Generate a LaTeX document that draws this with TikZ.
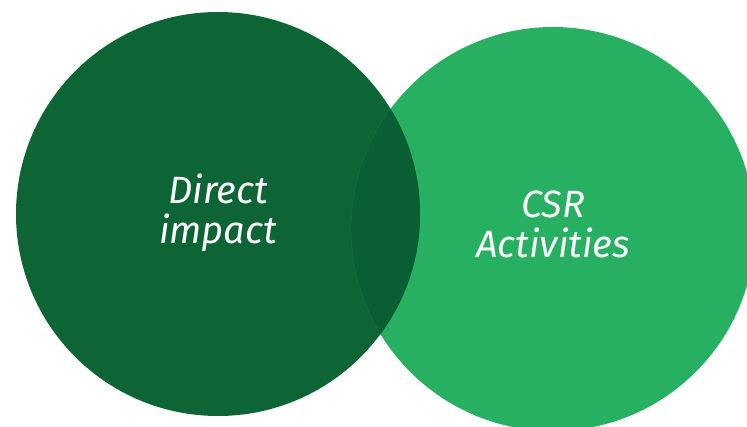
\documentclass[tikz,border=0pt]{standalone}
\usepackage{fontspec}
\setmainfont{Fira Sans}
\definecolor{leftc}{HTML}{0D6535}
\definecolor{rightc}{HTML}{28B062}
\definecolor{overc}{HTML}{0A5E33}
\tikzset{
  label/.style={text=white, align=center, font=\itshape\fontsize{38}{40}\selectfont, inner sep=0pt}
}
\begin{document}
\begin{tikzpicture}[x=1pt,y=-1pt]
\useasboundingbox (0,0) rectangle (747,427);
\coordinate (lc) at (218,214);
\coordinate (rc) at (553,229);
\fill[rightc] (rc) circle[radius=202pt];
\fill[leftc] (lc) circle[radius=202pt];
\begin{scope}
  \clip (rc) circle[radius=202pt];
  \fill[overc] (lc) circle[radius=202pt];
\end{scope}
\begin{scope}
  \clip (lc) circle[radius=202pt];
  \draw[line width=0.3pt, color=leftc!70!rightc] (rc) circle[radius=202pt];
\end{scope}
\node[label, anchor=base] (t1) at (218,244) {Direct\\impact};
\node[label, anchor=base] (t2) at (553,258) {CSR\\Activities};
\end{tikzpicture}
\end{document}
